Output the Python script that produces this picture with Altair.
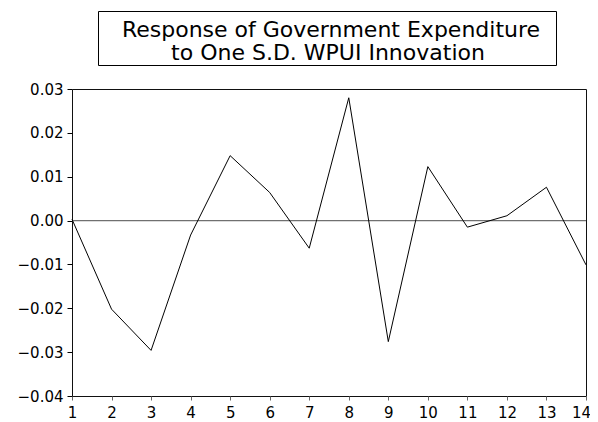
import altair as alt
import pandas as pd

periods = list(range(1, 15))
response = [0.0003, -0.0202, -0.0296, -0.0033, 0.0148, 0.0064, -0.0063,
            0.0280, -0.0276, 0.0123, -0.0015, 0.0011, 0.0076, -0.0101]
y_ticks = [0.03, 0.02, 0.01, 0.00, -0.01, -0.02, -0.03, -0.04]
title_lines = ["Response of Government Expenditure", "to One S.D. WPUI Innovation"]

df = pd.DataFrame({"period": periods, "response": response})

W, H = 514, 307
FONT = "DejaVu Sans"

y_scale = alt.Scale(domain=[-0.04, 0.03], nice=False, zero=False)
y_axis = alt.Axis(values=y_ticks, format=".2f", title=None, grid=False,
                  domain=False, tickSize=5, tickColor="black",
                  labelPadding=4, labelFont=FONT, labelFontSize=15,
                  labelColor="black")

x_enc = alt.X("period:Q", scale=alt.Scale(domain=[1, 14], nice=False, zero=False),
              axis=alt.Axis(values=periods, format="d", title=None, grid=False,
                            domain=False, tickSize=4, tickColor="#666666",
                            labelPadding=5, labelFont=FONT, labelFontSize=15,
                            labelColor="black", labelFlush=False,
                            labelOffset={"condition": {"test": "datum.value == 14", "value": -5},
                                         "value": 0}))

zero = alt.Chart(pd.DataFrame({"z": [0.0]})).mark_rule(color="#707070", strokeWidth=1.2).encode(
    y=alt.Y("z:Q", scale=y_scale, axis=y_axis)
)

line = alt.Chart(df).mark_line(color="black", strokeWidth=1).encode(
    x=x_enc, y=alt.Y("response:Q", scale=y_scale, axis=y_axis)
)

box = alt.Chart(alt.InlineData(values=[{"k": 1}])).mark_rect(
    fill="white", stroke="black", strokeWidth=1
).encode(x=alt.value(26.5), x2=alt.value(484.5), y=alt.value(-77.5), y2=alt.value(-23.5))

t1 = alt.Chart(alt.InlineData(values=[{"t": title_lines[0]}])).mark_text(
    font=FONT, fontSize=22, color="black", align="center", baseline="alphabetic"
).encode(text="t:N", x=alt.value(259), y=alt.value(-52.5))

t2 = alt.Chart(alt.InlineData(values=[{"t": title_lines[1]}])).mark_text(
    font=FONT, fontSize=22, color="black", align="center", baseline="alphabetic"
).encode(text="t:N", x=alt.value(256), y=alt.value(-29.5))

chart = alt.layer(zero, line, box, t1, t2).properties(
    width=W, height=H,
    autosize=alt.AutoSizeParams(type="none"),
    padding={"left": 64, "top": 81, "right": 4, "bottom": 25},
    background="white",
).configure_view(stroke="#111111", strokeWidth=1)

chart.save("out.html", embed_options={"renderer": "svg", "actions": False})
